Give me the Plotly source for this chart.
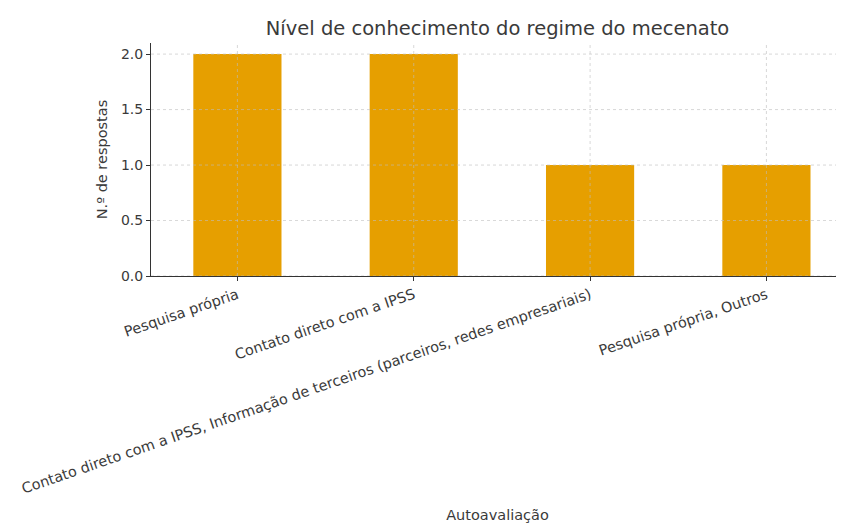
import plotly.graph_objects as go

categories = [
    "Pesquisa própria",
    "Contato direto com a IPSS",
    "Contato direto com a IPSS, Informação de terceiros (parceiros, redes empresariais)",
    "Pesquisa própria, Outros",
]
values = [2, 2, 1, 1]
y_ticks = [0.0, 0.5, 1.0, 1.5, 2.0]
y_tick_labels = ["0.0", "0.5", "1.0", "1.5", "2.0"]

FONT = "DejaVu Sans"
TXT = "#3a3a3a"
BAR = "#E69F00"
GRID = "rgba(190,190,190,0.6)"

fig = go.Figure()
fig.add_trace(go.Bar(
    x=list(range(len(categories))),
    y=values,
    width=0.5,
    marker=dict(color=BAR, line=dict(width=0)),
    hoverinfo="skip",
))

# gridlines drawn above bars, as in the reference
for yv in y_ticks:
    fig.add_shape(type="line", xref="paper", x0=0, x1=1, yref="y", y0=yv, y1=yv,
                  line=dict(color=GRID, width=1, dash="dot"), layer="above")
for i in range(len(categories)):
    fig.add_shape(type="line", xref="x", x0=i, x1=i, yref="paper", y0=0, y1=1,
                  line=dict(color=GRID, width=1, dash="dot"), layer="above")

# the page body adds an 8px offset; the figure is sized to compensate
fig.update_layout(
    width=836, height=515,
    margin=dict(l=143, r=0, t=35, b=247),
    paper_bgcolor="white", plot_bgcolor="white",
    font=dict(family=FONT, color=TXT, size=14),
    showlegend=False,
    title=dict(text="Nível de conhecimento do regime do mecenato",
               x=0.5, xanchor="center", xref="paper", y=0.961, yanchor="middle",
               font=dict(size=19.5, color=TXT, family=FONT)),
)
fig.update_xaxes(
    range=[-0.49, 3.44],
    tickmode="array", tickvals=list(range(len(categories))), ticktext=categories,
    tickangle=-19, tickfont=dict(size=14.5, color=TXT),
    showgrid=False, zeroline=False,
    showline=True, linecolor="#333333", linewidth=1,
    ticks="outside", ticklen=4, tickcolor="#333333",
    title=dict(text="Autoavaliação", standoff=14, font=dict(size=14.5, color=TXT)),
    automargin=False,
)
fig.update_yaxes(
    range=[0, 2.1],
    tickmode="array", tickvals=y_ticks, ticktext=y_tick_labels,
    tickfont=dict(size=14, color=TXT),
    showgrid=False, zeroline=False,
    showline=True, linecolor="#333333", linewidth=1,
    ticks="outside", ticklen=4, tickcolor="#333333",
    title=dict(text="N.º de respostas", standoff=9, font=dict(size=14.5, color=TXT)),
    automargin=False,
)

fig.write_html("out.html")
